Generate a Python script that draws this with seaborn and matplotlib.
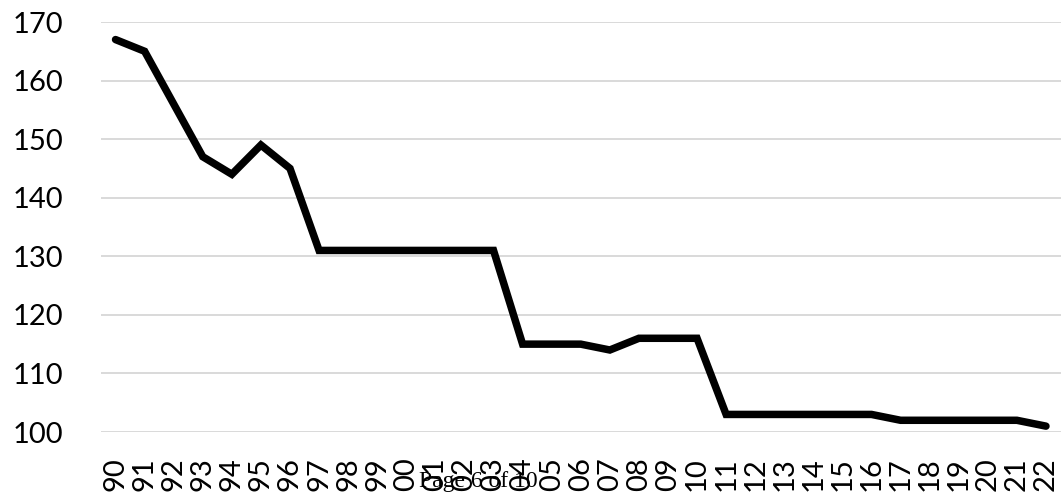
import matplotlib
matplotlib.use("Agg")
import matplotlib.pyplot as plt
import seaborn as sns
import pandas as pd
import numpy as np

years = ["90", "91", "92", "93", "94", "95", "96", "97", "98", "99",
         "00", "01", "02", "03", "04", "05", "06", "07", "08", "09",
         "10", "11", "12", "13", "14", "15", "16", "17", "18", "19",
         "20", "21", "22"]
values = [167, 165, 156, 147, 144, 149, 145, 131, 131, 131,
          131, 131, 131, 131, 115, 115, 115, 114, 116, 116,
          116, 103, 103, 103, 103, 103, 103, 102, 102, 102,
          102, 102, 101]
y_ticks = [100, 110, 120, 130, 140, 150, 160, 170]

sns.set_theme(style="white")
plt.rcParams['font.family'] = ['Lato', 'DejaVu Sans']

df = pd.DataFrame({"pos": np.arange(len(years)), "value": values})

fig = plt.figure(figsize=(10.62, 4.93), dpi=100)
ax = fig.add_axes([101 / 1062, 1 - 432 / 493, (1060.5 - 101) / 1062, (432 - 22) / 493])

sns.lineplot(data=df, x="pos", y="value", ax=ax, color="black", linewidth=5.4,
             solid_joinstyle="miter", solid_capstyle="round", zorder=3)

ax.set_xlim(-0.5, len(years) - 0.5)
ax.set_ylim(100, 170)
ax.set_yticks(y_ticks)
ax.set_yticklabels([str(t) for t in y_ticks], fontsize=21, color="black")
ax.set_xticks(np.arange(len(years)))
ax.set_xticklabels(years, rotation=90, fontsize=21, color="black", va="top", ha="center")
ax.tick_params(axis="y", length=0, pad=27)
ax.tick_params(axis="x", length=0, pad=18)
ax.set_xlabel("")
ax.set_ylabel("")
ax.grid(axis="y", color="#d9d9d9", linewidth=1.4)
ax.grid(axis="x", visible=False)
for s in ax.spines.values():
    s.set_visible(False)

fig.text(478 / 1062, 1 - 487 / 493, "Page 6 of 10", ha="center", va="baseline",
         fontsize=17, family=["Liberation Serif", "DejaVu Serif"], color="black")

fig.savefig("out.png", dpi=100)
